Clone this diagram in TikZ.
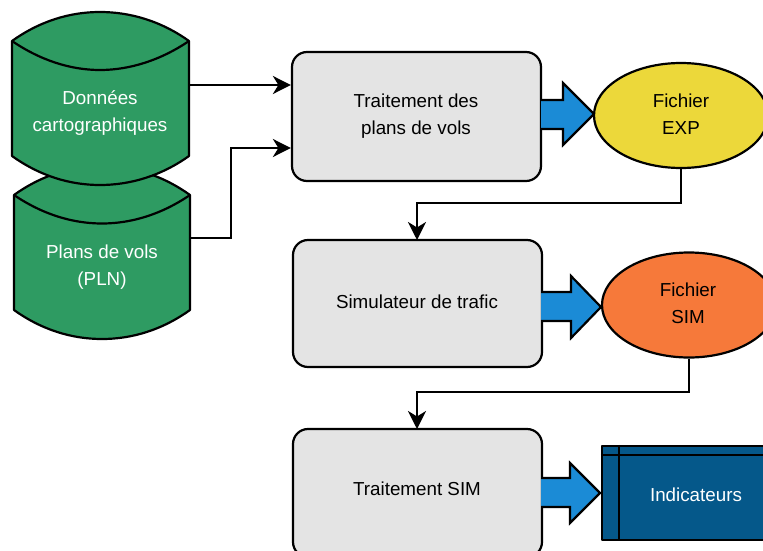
\documentclass[tikz,border=0pt]{standalone}
\usepackage{fontspec}
\setmainfont{Liberation Sans}
\usetikzlibrary{arrows.meta,shapes.geometric,positioning}
\definecolor{dgreen}{HTML}{2E9B62}
\definecolor{lgrey}{HTML}{E4E4E4}
\definecolor{fyellow}{HTML}{ECD83A}
\definecolor{forange}{HTML}{F6793A}
\definecolor{fblue}{HTML}{1B8BD6}
\definecolor{dblue}{HTML}{05588A}
\tikzset{
  outl/.style={draw=black,line width=2.2pt,line join=round},
  lbl/.style={font=\fontsize{18.8}{27}\selectfont,align=center,inner sep=0pt},
  procbox/.style={outl,fill=lgrey,rounded corners=15pt,inner sep=0pt},
  fileell/.style={outl,ellipse,inner sep=0pt},
  conn/.style={draw=black,line width=2.2pt,-{Stealth[length=18pt,width=18pt,inset=5.5pt]},line join=miter},
  bigarrow/.style={outl,fill=fblue,line join=miter}
}
\begin{document}
\begin{tikzpicture}[x=1pt,y=-1pt]
\useasboundingbox (0,0) rectangle (763,551);
\clip (0,0) rectangle (763,551);
% second drum
\path[outl,fill=dgreen] (14,195) .. controls (42,175) and (72,166) .. (102,166) .. controls (132,166) and (162,175) .. (190,195) -- (190,310) .. controls (162,330) and (132,339) .. (102,339) .. controls (72,339) and (42,330) .. (14,310) -- cycle;
\draw[outl] (14,195) .. controls (42,214) and (72,223.5) .. (102,223.5) .. controls (132,223.5) and (162,214) .. (190,195);
\node[lbl,text=white] (pln) at (102,267) {Plans de vols\\(PLN)};
% first drum
\path[outl,fill=dgreen] (12,41) .. controls (40,21) and (70,12) .. (100,12) .. controls (130,12) and (161,21) .. (189,41) -- (189,156) .. controls (161,176) and (130,185) .. (100,185) .. controls (70,185) and (40,176) .. (12,156) -- cycle;
\draw[outl] (12,41) .. controls (40,60) and (70,70) .. (100,70) .. controls (130,70) and (161,60) .. (189,41);
\node[lbl,text=white] (carto) at (100,113) {Données\\cartographiques};
\coordinate (cartoout) at (189,85);
\coordinate (plnout) at (190,238);
% boxes
\node[procbox,minimum width=249pt,minimum height=129pt] (tp) at (416.5,116.5) {};
\node[lbl] (tptxt) at (416,116) {Traitement des\\plans de vols};
\node[procbox,minimum width=249pt,minimum height=127pt] (sim) at (417.5,303.5) {};
\node[lbl] (simtxt) at (417,302) {Simulateur de trafic};
\node[procbox,minimum width=249pt,minimum height=128pt] (ts) at (417.5,493) {};
\node[lbl] (tstxt) at (417,489) {Traitement SIM};
% block arrows
\draw[bigarrow] (541,100) -- (563,100) -- (563,83) -- (594,114) -- (563,145) -- (563,129) -- (541,129);
\draw[bigarrow] (541,292) -- (571,292) -- (571,276) -- (601,307) -- (571,338) -- (571,321) -- (541,321);
\draw[bigarrow] (541,478) -- (570,478) -- (570,463) -- (600,493) -- (570,523) -- (570,507) -- (541,507);
% ellipses
\node[fileell,fill=fyellow,minimum width=174pt,minimum height=105pt] (exp) at (681,115.5) {};
\node[lbl] (exptxt) at (681,114) {Fichier\\EXP};
\node[fileell,fill=forange,minimum width=174pt,minimum height=105pt] (simf) at (689,305) {};
\node[lbl] (simftxt) at (688,303) {Fichier\\SIM};
% indicateurs
\node[outl,fill=dblue,minimum width=167pt,minimum height=94pt,inner sep=0pt] (ind) at (685.5,493) {};
\draw[outl] (ind.north west -| 619,0) -- (ind.south west -| 619,0);
\draw[outl] (ind.north west |- 0,455) -- (ind.north east |- 0,455);
\node[lbl,text=white] (indtxt) at (696,495) {Indicateurs};
% connectors
\draw[conn] (cartoout) -- (cartoout -| tp.west);
\draw[conn] (plnout) -- (231,238) -- (231,148) -- (tp.west |- 0,148);
\draw[conn] (exp.south) -- (681,203) -- (417,203) -- (417,240);
\draw[conn] (simf.south) -- (689,392) -- (417,392) -- (417,429);
\end{tikzpicture}
\end{document}
